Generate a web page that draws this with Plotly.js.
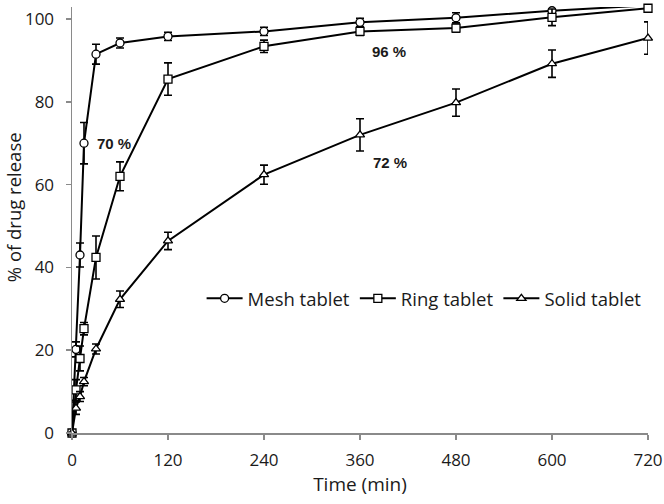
<!DOCTYPE html>
<html>
<head>
<meta charset="utf-8">
<script src="https://cdn.plot.ly/plotly-3.0.1.min.js"></script>
<style>html,body{margin:0;padding:0;background:#fff}#chart{width:664px;height:504px}</style>
</head>
<body>
<div id="chart"></div>
<script>
const time = [0, 5, 10, 15, 30, 60, 120, 240, 360, 480, 600, 720];
const meshRelease = [0, 20.2, 43, 70, 91.5, 94.2, 95.8, 97, 99.2, 100.3, 102, 103.3];
const meshError = [0, 1.8, 2.9, 5, 2.4, 1.2, 1, 1, 1, 1.2, 1.4, 0.8];
const ringRelease = [0, 10.4, 18, 25.2, 42.4, 62, 85.5, 93.4, 97, 97.8, 100.4, 102.6];
const ringError = [0, 2.5, 3, 1.5, 5.2, 3.5, 3.9, 1.5, 1, 1, 2, 0.8];
const solidRelease = [0, 6, 8.8, 12.4, 20.3, 32.3, 46.4, 62.4, 72, 79.8, 89.2, 95.4];
const solidError = [0, 1.5, 1.2, 1, 1.2, 2, 2.1, 2.3, 3.9, 3.3, 3.3, 3.9];
const seriesNames = ['Mesh tablet', 'Ring tablet', 'Solid tablet'];
const tickVals = [0, 120, 240, 360, 480, 600, 720];
const yTickVals = [0, 20, 40, 60, 80, 100];
const xTitle = 'Time (min)';
const yTitle = '% of drug release';
const notes = [
  {x: 15, y: 70, text: '70 %'},
  {x: 360, y: 97, text: '96 %'},
  {x: 360, y: 72, text: '72 %'}
];

const FONT = 'Open Sans, Liberation Sans, sans-serif';
const symbols = ['circle', 'square', 'triangle-up'];
const ys = [meshRelease, ringRelease, solidRelease];
const es = [meshError, ringError, solidError];

const traces = ys.map((y, i) => ({
  x: time, y: y, name: seriesNames[i], type: 'scatter', mode: 'lines+markers',
  line: {color: '#000', width: 2},
  marker: {symbol: symbols[i], size: 8, color: '#fff', line: {color: '#000', width: 1.3}},
  error_y: {type: 'data', array: es[i], visible: true, color: '#000', thickness: 1.6, width: 4},
  cliponaxis: false
}));

const noteShift = [{x: 11, y: 0}, {x: 10, y: -20}, {x: 11, y: -28}];

const annotations = notes.map((n, i) => ({
  x: n.x, y: n.y, text: n.text, showarrow: false, xref: 'x', yref: 'y',
  xanchor: 'left', yanchor: 'middle',
  xshift: noteShift[i].x, yshift: noteShift[i].y,
  font: {family: 'Liberation Sans, Arial, sans-serif', size: 15, color: '#1a1a1a', weight: 'bold'}
}));
annotations.push({
  text: yTitle, textangle: -90, showarrow: false, xref: 'paper', yref: 'paper',
  x: 0, y: 0.53, xanchor: 'center', yanchor: 'middle', xshift: -59,
  font: {family: FONT, size: 18.5, color: '#1a1a1a'}
});

const layout = {
  width: 664, height: 504,
  margin: {l: 72, r: 16, t: 7, b: 71},
  paper_bgcolor: '#fff', plot_bgcolor: '#fff',
  showlegend: true,
  legend: {orientation: 'h', x: 0.225, y: 0.315, xanchor: 'left', yanchor: 'middle',
    font: {family: FONT, size: 18.5, color: '#1a1a1a'}, itemwidth: 36,
    tracegroupgap: 0, bgcolor: 'rgba(0,0,0,0)'},
  xaxis: {range: [0, 720], tickvals: tickVals, ticktext: tickVals.map(String),
    showgrid: false, zeroline: false, showline: true, linecolor: '#8a8a8a', linewidth: 1.5,
    ticks: 'outside', ticklen: 5, tickcolor: '#8a8a8a', tickwidth: 1.5, ticklabelstandoff: 6,
    tickfont: {family: FONT, size: 17, color: '#1a1a1a'},
    title: {text: xTitle, font: {family: FONT, size: 19, color: '#1a1a1a'}, standoff: 7}},
  yaxis: {range: [0, 102.9], tickvals: yTickVals, ticktext: yTickVals.map(String),
    showgrid: false, zeroline: false, showline: true, linecolor: '#8a8a8a', linewidth: 1.5,
    ticks: 'outside', ticklen: 5, tickcolor: '#8a8a8a', tickwidth: 1.5, ticklabelstandoff: 8,
    tickfont: {family: FONT, size: 17, color: '#1a1a1a'}},
  annotations: annotations
};
Plotly.newPlot('chart', traces, layout, {displayModeBar: false, staticPlot: true});
</script>
</body>
</html>
